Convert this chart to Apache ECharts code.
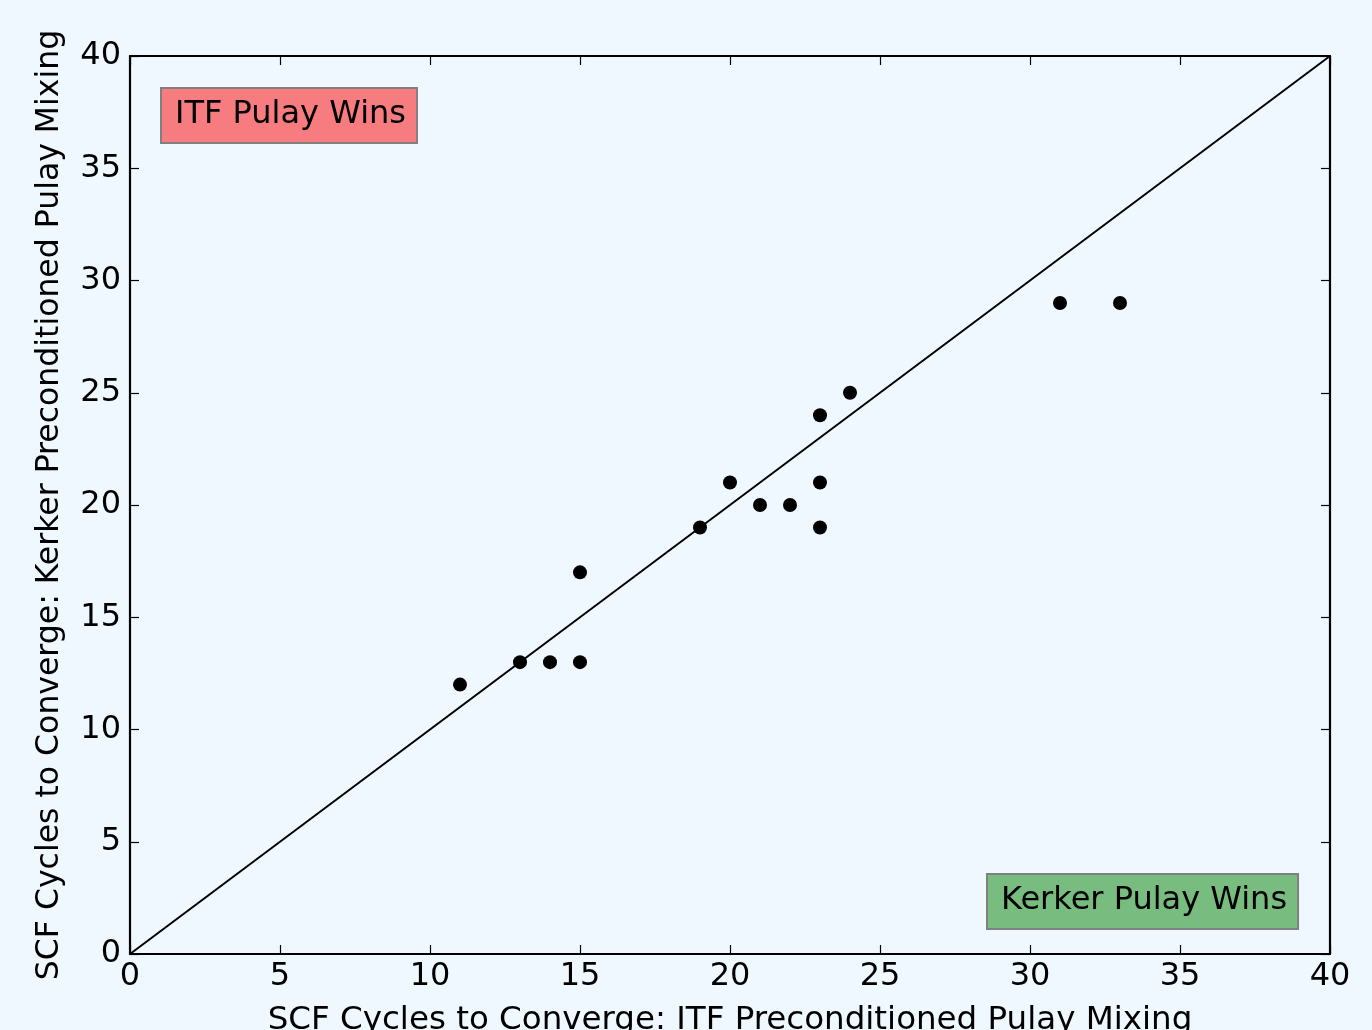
<!DOCTYPE html>
<html>
<head>
<meta charset="utf-8">
<script src="https://cdn.jsdelivr.net/npm/echarts@6/dist/echarts.min.js"></script>
<style>
  html, body { margin: 0; padding: 0; background: #f0f8ff; }
  #main { width: 1372px; height: 1030px; }
</style>
</head>
<body>
<div id="main"></div>
<script>
var chart = echarts.init(document.getElementById("main"));

// data
var itfCycles = [11, 13, 14, 15, 15, 19, 20, 21, 22, 23, 23, 23, 24, 31, 33];
var kerkerCycles = [12, 13, 13, 13, 17, 19, 21, 20, 20, 24, 21, 19, 25, 29, 29];
var diagonal = [[0, 0], [40, 40]];
var axisMin = 0;
var axisMax = 40;
var tickStep = 5;

var points = itfCycles.map(function (x, i) {
  return [x, kerkerCycles[i]];
});

var font = "DejaVu Sans";

function axisBase(extra) {
  var a = {
    type: "value",
    min: axisMin,
    max: axisMax,
    interval: tickStep,
    splitLine: { show: false },
    axisLine: { show: true, onZero: false, lineStyle: { color: "#000", width: 2.2 } },
    axisTick: { show: true, inside: true, length: 9, lineStyle: { color: "#000", width: 1.2 } },
    axisLabel: { show: true, color: "#000", fontFamily: font, fontSize: 32 },
  };
  return Object.assign(a, extra);
}

var option = {
  backgroundColor: "#f0f8ff",
  animation: false,
  grid: { left: 130, right: 42, top: 56, bottom: 76, outerBoundsMode: "none", containLabel: false },
  xAxis: [
    axisBase({
      position: "bottom",
      name: "SCF Cycles to Converge: ITF Preconditioned Pulay Mixing",
      nameLocation: "middle",
      nameGap: 50,
      nameTextStyle: { color: "#000", fontFamily: font, fontSize: 32.5 },
      axisLabel: { color: "#000", fontFamily: font, fontSize: 32, margin: 7 },
    }),
    axisBase({ position: "top", axisLabel: { show: false } }),
  ],
  yAxis: [
    axisBase({
      position: "left",
      name: "SCF Cycles to Converge: Kerker Preconditioned Pulay Mixing",
      nameLocation: "middle",
      nameGap: 64,
      nameTextStyle: { color: "#000", fontFamily: font, fontSize: 31.5 },
      axisLabel: { color: "#000", fontFamily: font, fontSize: 32, margin: 9 },
    }),
    axisBase({ position: "right", axisLabel: { show: false } }),
  ],
  graphic: [
    {
      type: "text",
      left: 160,
      top: 87,
      style: {
        text: "ITF Pulay Wins",
        fontFamily: font,
        fontSize: 32,
        fill: "#000",
        backgroundColor: "#f77c7f",
        borderColor: "#808080",
        borderWidth: 2,
        padding: [10, 10, 11, 13],
      },
    },
    {
      type: "text",
      left: 986,
      top: 873,
      style: {
        text: "Kerker Pulay Wins",
        fontFamily: font,
        fontSize: 32,
        fill: "#000",
        backgroundColor: "#78bc7f",
        borderColor: "#808080",
        borderWidth: 2,
        padding: [10, 10, 11, 13],
      },
    },
  ],
  series: [
    {
      type: "line",
      data: diagonal,
      symbol: "none",
      lineStyle: { color: "#000", width: 2 },
      silent: true,
    },
    {
      type: "scatter",
      data: points,
      symbol: "circle",
      symbolSize: 14,
      itemStyle: { color: "#000", opacity: 1 },
    },
  ],
};

chart.setOption(option);
</script>
</body>
</html>
